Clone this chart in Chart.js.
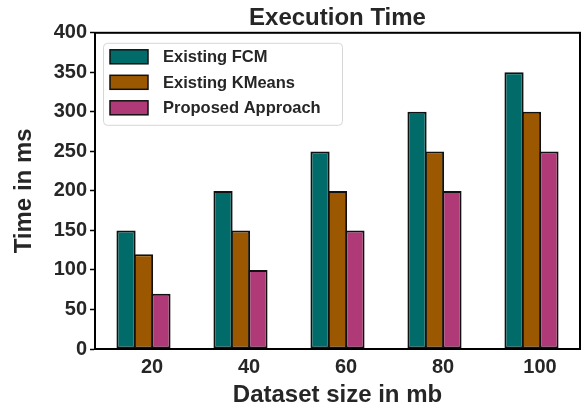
<!DOCTYPE html>
<html>
<head>
<meta charset="utf-8">
<script src="https://cdn.jsdelivr.net/npm/chart.js@4/dist/chart.umd.min.js"></script>
<style>
  html, body { margin: 0; padding: 0; background: #ffffff; }
  #wrap { width: 582px; height: 410px; }
</style>
</head>
<body>
<div id="wrap"><canvas id="chart" width="582" height="410"></canvas></div>
<script>
// Dataset sizes (mb) and execution times (ms)
const categories = ['20', '40', '60', '80', '100'];
const existingFCM = [150, 200, 250, 300, 350];
const existingKMeans = [120, 150, 200, 250, 300];
const proposedApproach = [70, 100, 150, 200, 250];
const yTicks = [0, 50, 100, 150, 200, 250, 300, 350, 400];

const FONT = "'Liberation Sans', Arial, sans-serif";
const TEXT = '#262626';

// Frame around the plotting area
const frame = {
  id: 'frame',
  afterDatasetsDraw(chart) {
    const { ctx, chartArea: a } = chart;
    ctx.save();
    ctx.strokeStyle = '#000';
    ctx.lineWidth = 2;
    ctx.strokeRect(a.left, a.top, a.right - a.left, a.bottom - a.top);
    ctx.restore();
  }
};

// Legend drawn inside the upper-left corner of the plot
const innerLegend = {
  id: 'innerLegend',
  afterDraw(chart) {
    const { ctx, chartArea: a } = chart;
    const x = a.left + 8, y = a.top + 10, w = 239, h = 82;
    ctx.save();
    ctx.fillStyle = 'rgba(255,255,255,0.85)';
    ctx.strokeStyle = '#d6d6d6';
    ctx.lineWidth = 1;
    ctx.beginPath();
    ctx.roundRect(x + 0.5, y + 0.5, w, h, 4);
    ctx.fill();
    ctx.stroke();
    ctx.font = 'bold 16.5px ' + FONT;
    ctx.textBaseline = 'middle';
    chart.data.datasets.forEach((ds, i) => {
      const cy = y + 14 + i * 25.5;
      ctx.fillStyle = ds.backgroundColor;
      ctx.fillRect(x + 7, cy - 7, 38, 14);
      ctx.strokeStyle = '#111';
      ctx.lineWidth = 1.5;
      ctx.strokeRect(x + 7, cy - 7, 38, 14);
      ctx.fillStyle = TEXT;
      ctx.fillText(ds.label, x + 60, cy + 1);
    });
    ctx.restore();
  }
};

// Bars in a group touch, sharing one dark edge
const barStyle = {
  borderColor: '#111111',
  borderWidth: 2,
  borderSkipped: false,
  barPercentage: 1.1,
  categoryPercentage: 0.54
};

new Chart(document.getElementById('chart'), {
  type: 'bar',
  data: {
    labels: categories,
    datasets: [
      Object.assign({ label: 'Existing FCM', data: existingFCM, backgroundColor: '#006b68' }, barStyle),
      Object.assign({ label: 'Existing KMeans', data: existingKMeans, backgroundColor: '#9b5800' }, barStyle),
      Object.assign({ label: 'Proposed Approach', data: proposedApproach, backgroundColor: '#b03a78' }, barStyle)
    ]
  },
  options: {
    responsive: false,
    animation: false,
    devicePixelRatio: 1,
    layout: { padding: { left: 0, right: 2, top: 0, bottom: 0 } },
    plugins: {
      legend: { display: false },
      tooltip: { enabled: false },
      title: {
        display: true,
        text: 'Execution Time',
        color: TEXT,
        fullSize: false,
        font: { family: FONT, size: 24, weight: 'bold' },
        padding: { top: 4, bottom: 0 }
      }
    },
    scales: {
      x: {
        offset: true,
        afterFit(scale) { scale.height = 61; },
        grid: { display: false, drawTicks: false },
        border: { display: true, color: '#000', width: 2 },
        ticks: {
          color: TEXT,
          labelOffset: 8.5,
          padding: 6,
          font: { family: FONT, size: 20, weight: 'bold' }
        },
        title: {
          display: true,
          text: 'Dataset size in mb',
          color: TEXT,
          font: { family: FONT, size: 24, weight: 'bold' },
          padding: { top: 0, bottom: 0 }
        }
      },
      y: {
        min: 0,
        max: 400,
        afterFit(scale) { scale.width = 95; },
        afterBuildTicks(scale) { scale.ticks = yTicks.map(v => ({ value: v })); },
        grid: { drawOnChartArea: false, drawTicks: true, tickLength: 5, tickColor: '#000', tickWidth: 1.5 },
        border: { display: true, color: '#000', width: 2 },
        ticks: {
          color: TEXT,
          padding: 3,
          font: { family: FONT, size: 20, weight: 'bold' }
        },
        title: {
          display: true,
          text: 'Time in ms',
          color: TEXT,
          font: { family: FONT, size: 24, weight: 'bold' },
          padding: { top: 10, bottom: 0 }
        }
      }
    }
  },
  plugins: [frame, innerLegend]
});
</script>
</body>
</html>
